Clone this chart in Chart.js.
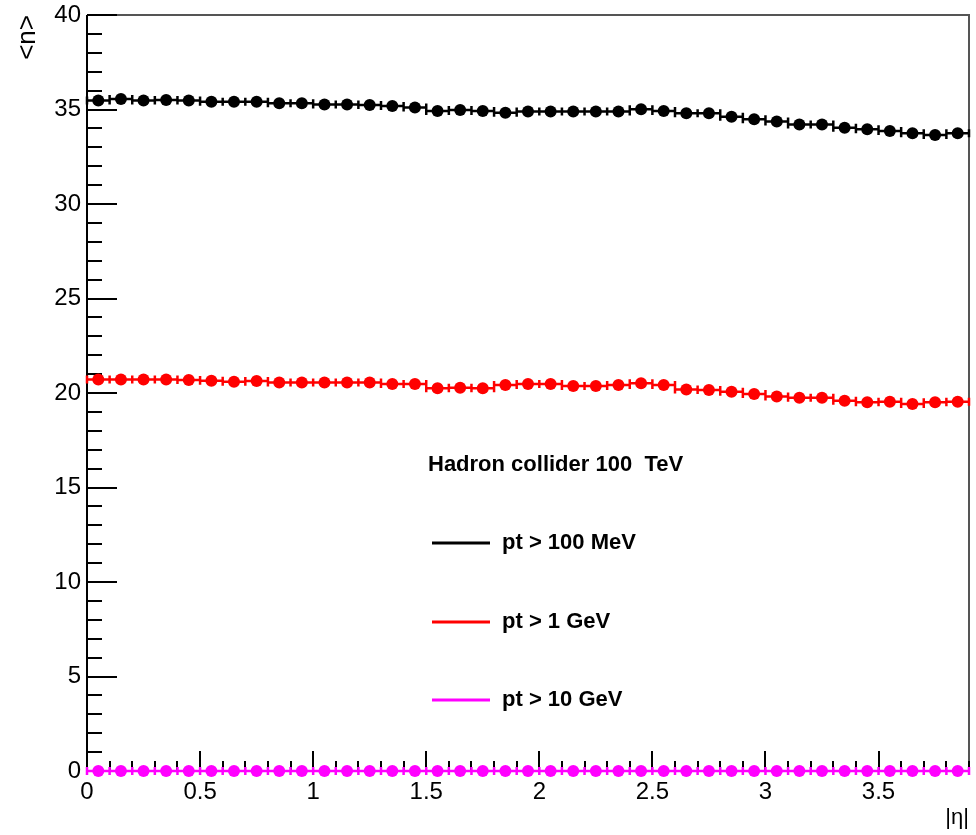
<!DOCTYPE html>
<html>
<head>
<meta charset="utf-8">
<script src="https://cdn.jsdelivr.net/npm/chart.js@4.4.1/dist/chart.umd.min.js"></script>
<style>
  html, body { margin: 0; padding: 0; background: #fff; }
  #wrap { width: 976px; height: 835px; }
</style>
</head>
<body>
<div id="wrap"><canvas id="multChart" width="976" height="835"></canvas></div>
<script>
// bin centres in |eta| (bin width 0.1)
const etaBins = [0.05, 0.15, 0.25, 0.35, 0.45, 0.55, 0.65, 0.75, 0.85, 0.95,
                 1.05, 1.15, 1.25, 1.35, 1.45, 1.55, 1.65, 1.75, 1.85, 1.95,
                 2.05, 2.15, 2.25, 2.35, 2.45, 2.55, 2.65, 2.75, 2.85, 2.95,
                 3.05, 3.15, 3.25, 3.35, 3.45, 3.55, 3.65, 3.75, 3.85];
const binHalfWidth = 0.05;

// mean multiplicity per bin
const nPt100MeV = [35.47, 35.56, 35.47, 35.50, 35.47, 35.41, 35.41, 35.41, 35.33, 35.33,
                   35.27, 35.27, 35.24, 35.19, 35.10, 34.92, 34.97, 34.92, 34.83, 34.89,
                   34.89, 34.89, 34.89, 34.89, 35.01, 34.92, 34.80, 34.80, 34.62, 34.48,
                   34.36, 34.21, 34.21, 34.04, 33.95, 33.86, 33.74, 33.65, 33.74];
const nPt1GeV   = [20.72, 20.72, 20.72, 20.72, 20.69, 20.65, 20.60, 20.63, 20.55, 20.55,
                   20.55, 20.55, 20.55, 20.48, 20.48, 20.25, 20.28, 20.25, 20.42, 20.48,
                   20.48, 20.37, 20.37, 20.42, 20.51, 20.42, 20.19, 20.16, 20.07, 19.95,
                   19.81, 19.75, 19.75, 19.59, 19.51, 19.54, 19.42, 19.51, 19.54];
const nPt10GeV  = [0, 0, 0, 0, 0, 0, 0, 0, 0, 0,
                   0, 0, 0, 0, 0, 0, 0, 0, 0, 0,
                   0, 0, 0, 0, 0, 0, 0, 0, 0, 0,
                   0, 0, 0, 0, 0, 0, 0, 0, 0];

const seriesLabels = ['pt > 100 MeV', 'pt > 1 GeV', 'pt > 10 GeV'];
const seriesColors = ['#000000', '#ff0000', '#ff00ff'];
const legendHeader = 'Hadron collider 100  TeV';

const xTickValues = [0, 0.5, 1, 1.5, 2, 2.5, 3, 3.5];
const yTickValues = [0, 5, 10, 15, 20, 25, 30, 35, 40];
const xMinorStep = 0.1;
const yMinorStep = 1;

const FONT = '"Liberation Sans", Arial, Helvetica, sans-serif';

function toPoints(vals) {
    return vals.map((v, i) => ({ x: etaBins[i], y: v }));
}

const datasets = [nPt100MeV, nPt1GeV, nPt10GeV].map((vals, i) => ({
    label: seriesLabels[i],
    data: toPoints(vals),
    showLine: false,
    borderColor: seriesColors[i],
    backgroundColor: seriesColors[i],
    pointBackgroundColor: seriesColors[i],
    pointBorderWidth: 0,
    pointRadius: 6,
    pointHoverRadius: 6,
    clip: false
}));

// frame + inward ROOT style ticks
const frameTicks = {
    id: 'frameTicks',
    beforeDatasetsDraw(chart) {
        const { ctx, chartArea: a, scales: { x, y } } = chart;
        ctx.save();
        ctx.lineWidth = 2;
        ctx.strokeStyle = '#555';
        ctx.beginPath();
        ctx.moveTo(a.left, a.top); ctx.lineTo(a.right, a.top); ctx.lineTo(a.right, a.bottom);
        ctx.stroke();

        ctx.strokeStyle = '#000';
        ctx.beginPath();
        ctx.moveTo(a.left, a.top); ctx.lineTo(a.left, a.bottom); ctx.lineTo(a.right, a.bottom);
        ctx.stroke();

        ctx.beginPath();
        for (let v = y.min; v <= y.max + 1e-9; v += yMinorStep) {
            const py = Math.round(y.getPixelForValue(v));
            const major = yTickValues.some(t => Math.abs(t - v) < 1e-6);
            ctx.moveTo(a.left, py);
            ctx.lineTo(a.left + (major ? 30 : 15), py);
        }
        for (let k = 0; k * xMinorStep <= x.max + 1e-9; k++) {
            const v = k * xMinorStep;
            const px = Math.round(x.getPixelForValue(v));
            const major = xTickValues.some(t => Math.abs(t - v) < 1e-6);
            ctx.moveTo(px, a.bottom);
            ctx.lineTo(px, a.bottom - (major ? 20 : 10));
        }
        ctx.stroke();
        ctx.restore();
    }
};

// horizontal bin-width bars with end ticks
const errorBars = {
    id: 'errorBars',
    beforeDatasetsDraw(chart) {
        const { ctx, scales: { x, y } } = chart;
        chart.data.datasets.forEach(ds => {
            ctx.save();
            ctx.strokeStyle = ds.borderColor;
            ctx.lineWidth = 2.5;
            ctx.beginPath();
            ds.data.forEach(p => {
                const x0 = x.getPixelForValue(p.x - binHalfWidth);
                const x1 = x.getPixelForValue(p.x + binHalfWidth);
                const py = y.getPixelForValue(p.y);
                ctx.moveTo(x0, py); ctx.lineTo(x1, py);
                ctx.moveTo(x0, py - 4); ctx.lineTo(x0, py + 4);
                ctx.moveTo(x1, py - 4); ctx.lineTo(x1, py + 4);
            });
            ctx.stroke();
            ctx.restore();
        });
    }
};

const legendBox = {
    id: 'legendBox',
    afterDraw(chart) {
        const { ctx } = chart;
        ctx.save();
        ctx.font = 'bold 22px ' + FONT;
        ctx.fillStyle = '#000';
        ctx.textBaseline = 'middle';
        ctx.textAlign = 'left';
        ctx.fillText(legendHeader, 428, 465);
        const rows = [543, 622, 700];
        chart.data.datasets.forEach((ds, i) => {
            ctx.strokeStyle = ds.borderColor;
            ctx.lineWidth = 3;
            ctx.beginPath();
            ctx.moveTo(432, rows[i]); ctx.lineTo(490, rows[i]);
            ctx.stroke();
            ctx.fillText(ds.label, 502, rows[i]);
        });
        ctx.restore();
    }
};

new Chart(document.getElementById('multChart'), {
    type: 'scatter',
    data: { datasets },
    options: {
        responsive: false,
        animation: false,
        events: [],
        layout: { padding: { top: 15, right: 7, left: 0, bottom: 0 } },
        plugins: {
            legend: { display: false },
            tooltip: { enabled: false }
        },
        scales: {
            x: {
                type: 'linear',
                min: 0,
                max: 3.9,
                afterFit(scale) {
                    scale.height = 64;
                    scale.paddingLeft = 0;
                    scale.paddingRight = 0;
                },
                afterBuildTicks(scale) { scale.ticks = xTickValues.map(v => ({ value: v })); },
                grid: { display: false, drawTicks: false },
                border: { display: false },
                ticks: {
                    color: '#000',
                    padding: 7,
                    maxRotation: 0,
                    autoSkip: false,
                    font: { family: FONT, size: 24 },
                    callback: v => String(v)
                },
                title: {
                    display: true,
                    text: '|η|',
                    align: 'end',
                    color: '#000',
                    font: { family: FONT, size: 22 },
                    padding: { top: 0, bottom: 4 }
                }
            },
            y: {
                type: 'linear',
                min: 0,
                max: 40,
                afterFit(scale) {
                    scale.width = 87;
                    scale.paddingTop = 0;
                    scale.paddingBottom = 0;
                },
                afterBuildTicks(scale) { scale.ticks = yTickValues.map(v => ({ value: v })); },
                grid: { display: false, drawTicks: false },
                border: { display: false },
                ticks: {
                    color: '#000',
                    padding: 6,
                    autoSkip: false,
                    font: { family: FONT, size: 24 },
                    callback: v => String(v)
                },
                title: {
                    display: true,
                    text: '<n>',
                    align: 'end',
                    color: '#000',
                    font: { family: FONT, size: 26 },
                    padding: { top: 12, bottom: 0 }
                }
            }
        }
    },
    plugins: [frameTicks, errorBars, legendBox]
});
</script>
</body>
</html>
